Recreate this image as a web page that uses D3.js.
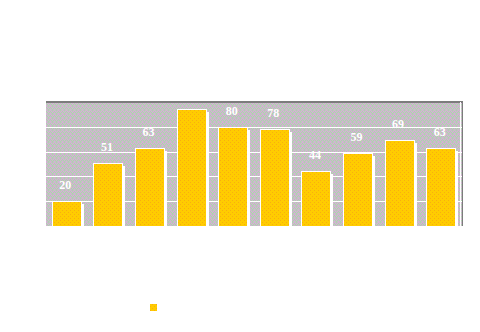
<!DOCTYPE html>
<html>
<head>
<meta charset="utf-8">
<script src="https://cdn.jsdelivr.net/npm/d3@7"></script>
<style>
  body { margin: 0; background: #fff; }
  svg { display: block; }
</style>
</head>
<body>
<svg></svg>
<script>
let categories = ["1", "2", "3", "4", "5", "6", "7", "8", "9", "10"];
let values = [20, 51, 63, 94, 80, 78, 44, 59, 69, 63];
let gridTicks = [20, 40, 60, 80];

let svgWidth = 480, svgHeight = 332;
let margin = { top: 102, right: 18, bottom: 106, left: 46 };
let width = svgWidth - margin.left - margin.right;
let height = svgHeight - margin.top - margin.bottom;

let svg = d3.select("svg")
    .attr("width", svgWidth)
    .attr("height", svgHeight);

let defs = svg.append("defs");

// dithered pink / green / grey background
let bg = defs.append("pattern")
    .attr("id", "dither")
    .attr("patternUnits", "userSpaceOnUse")
    .attr("width", 4).attr("height", 4);
let P = "#d8acd8", G = "#acd4ac", Y = "#c4c0c4";
let bgCols = [
    [P, Y, G, Y],
    [G, P, Y, P],
    [Y, G, P, G],
    [P, Y, G, Y]
];
bgCols.forEach(function (row, j) {
    row.forEach(function (c, i) {
        bg.append("rect").attr("x", i).attr("y", j).attr("width", 1).attr("height", 1).attr("fill", c);
    });
});

// yellow bar fill with orange specks
let bp = defs.append("pattern")
    .attr("id", "barfill")
    .attr("patternUnits", "userSpaceOnUse")
    .attr("width", 4).attr("height", 4);
bp.append("rect").attr("width", 4).attr("height", 4).attr("fill", "#ffcc00");
bp.append("rect").attr("x", 0).attr("y", 0).attr("width", 1).attr("height", 1).attr("fill", "#f9ad10");
bp.append("rect").attr("x", 2).attr("y", 2).attr("width", 1).attr("height", 1).attr("fill", "#f9ad10");

let g = svg.append("g")
    .attr("transform", "translate(" + margin.left + "," + margin.top + ")")
    .attr("shape-rendering", "crispEdges");

let x = d3.scaleBand()
    .domain(categories)
    .range([0, width])
    .paddingInner(0.28)
    .paddingOuter(0.14);

let y = d3.scaleLinear()
    .domain([0, 100])
    .range([height, 0]);

g.append("rect")
    .attr("width", width)
    .attr("height", height)
    .attr("fill", "url(#dither)");

g.selectAll(".grid")
    .data(gridTicks)
    .enter().append("line")
    .attr("x1", 0).attr("x2", width)
    .attr("y1", function (d) { return Math.round(y(d)) + 0.5 })
    .attr("y2", function (d) { return Math.round(y(d)) + 0.5 })
    .attr("stroke", "#fff")
    .attr("stroke-width", 1);

// frame: top and right edges
g.append("line")
    .attr("x1", 0).attr("x2", width + 1)
    .attr("y1", 0).attr("y2", 0)
    .attr("stroke", "#7c7c7c").attr("stroke-width", 2);
g.append("line")
    .attr("x1", width + 0.5).attr("x2", width + 0.5)
    .attr("y1", 0).attr("y2", height)
    .attr("stroke", "#7c7c7c").attr("stroke-width", 1);
g.append("line")
    .attr("x1", width - 1.5).attr("x2", width - 1.5)
    .attr("y1", 0).attr("y2", height)
    .attr("stroke", "#fff").attr("stroke-width", 1);

// white shadows
g.selectAll(".shadow")
    .data(values)
    .enter().append("rect")
    .attr("x", function (d, i) { return Math.round(x(categories[i])) + 2 })
    .attr("y", function (d) { return Math.round(y(d)) + 3 })
    .attr("width", Math.round(x.bandwidth()))
    .attr("height", function (d) { return height - Math.round(y(d)) - 3 })
    .attr("fill", "#fff");

g.selectAll(".bar")
    .data(values)
    .enter().append("rect")
    .attr("x", function (d, i) { return Math.round(x(categories[i])) + 0.5 })
    .attr("y", function (d) { return Math.round(y(d)) + 0.5 })
    .attr("width", Math.round(x.bandwidth()) - 1)
    .attr("height", function (d) { return height - Math.round(y(d)) })
    .attr("fill", "url(#barfill)")
    .attr("stroke", "#fff")
    .attr("stroke-width", 1);

g.selectAll(".label")
    .data(values)
    .enter().append("text")
    .attr("x", function (d, i) { return x(categories[i]) + x.bandwidth() / 2 - 1.5 })
    .attr("y", function (d) { return y(d) - 12 })
    .attr("text-anchor", "middle")
    .attr("fill", "#fff")
    .attr("font-family", "'Liberation Serif', 'DejaVu Serif', serif")
    .attr("font-weight", "bold")
    .attr("font-size", "12px")
    .text(function (d) { return d });

// legend swatch
svg.append("rect")
    .attr("x", 150).attr("y", 304)
    .attr("width", 7).attr("height", 7)
    .attr("fill", "url(#barfill)");
</script>
</body>
</html>
